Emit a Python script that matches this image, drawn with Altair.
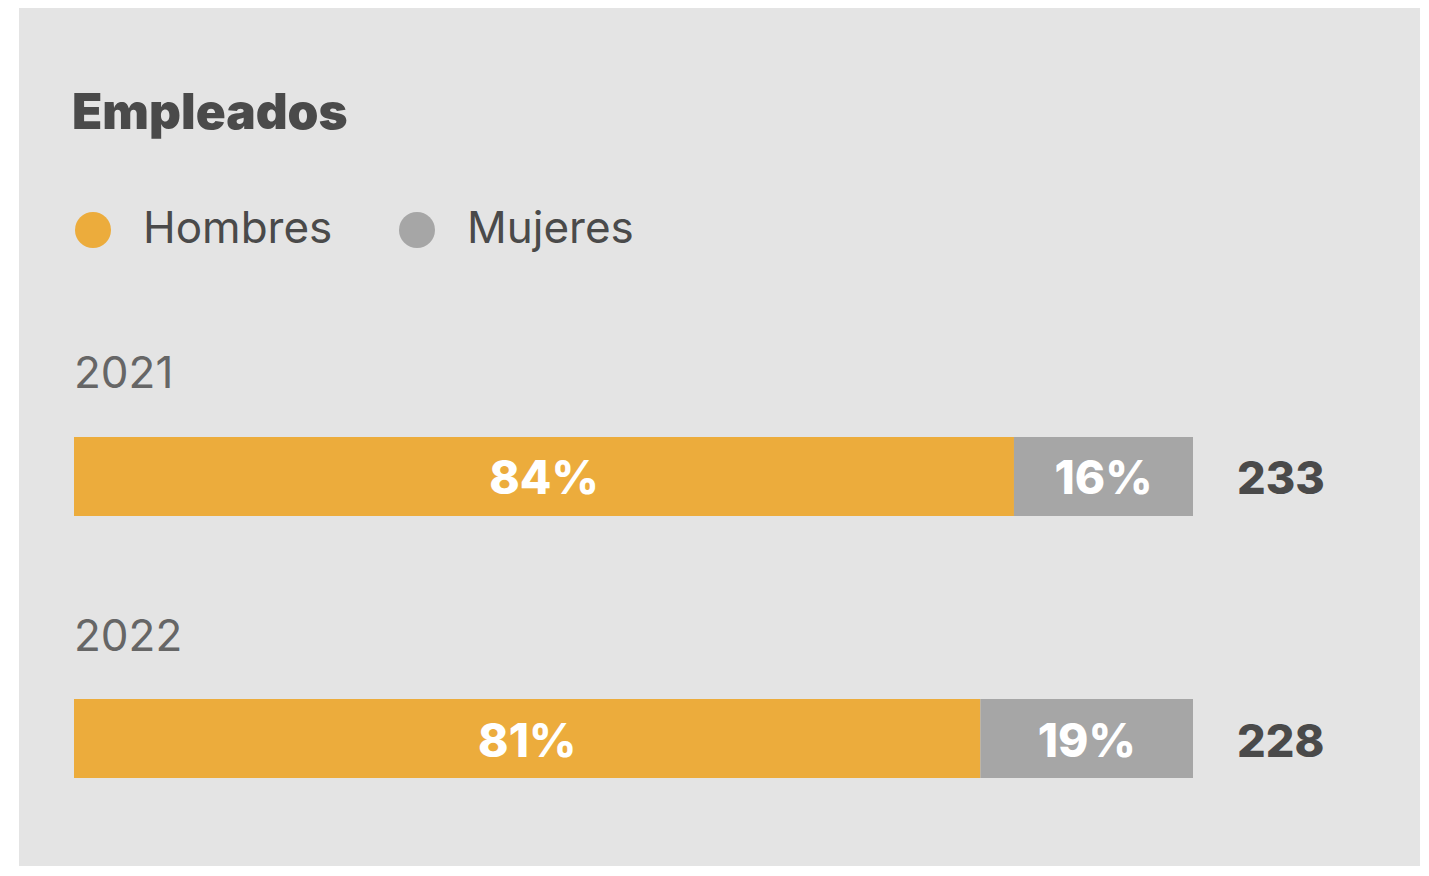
import altair as alt
import pandas as pd

# ---- data ----
years = ["2021", "2022"]
genders = ["Hombres", "Mujeres"]
hombres_pct = [84, 81]
mujeres_pct = [16, 19]
totals = [233, 228]
colors = ["#ECAC3C", "#A6A6A6"]
title_text = "Empleados"

rows = []
for i, yr in enumerate(years):
    start = 0
    for g, vals in zip(genders, [hombres_pct, mujeres_pct]):
        v = vals[i]
        rows.append({"year": yr, "gender": g, "pct": v, "start": start,
                     "end": start + v, "label": f"{v}%"})
        start += v
df = pd.DataFrame(rows)
tot_df = pd.DataFrame({"year": years, "total": totals})
year_df = pd.DataFrame({"year": years})
title_df = pd.DataFrame({"t": [title_text]})

FONT = "Inter"
W, H = 1401, 858

xs = alt.Scale(domain=[0, 100], range=[55, 1174])
ys = alt.Scale(domain=years, range=[429, 770], paddingInner=0.6985, paddingOuter=0)

bars = alt.Chart(df).mark_bar().encode(
    x=alt.X("start:Q", scale=xs, axis=None),
    x2="end:Q",
    y=alt.Y("year:N", scale=ys, axis=None),
    color=alt.Color(
        "gender:N",
        scale=alt.Scale(domain=genders, range=colors),
        legend=alt.Legend(
            orient="none", legendX=52, legendY=200, direction="horizontal",
            title=None, symbolType="circle", symbolSize=1296,
            symbolStrokeWidth=0, symbolOpacity=1, labelFontSize=44,
            labelFont=FONT, labelColor="#4A4A4A", labelOffset=28,
            labelLimit=0, columnPadding=62, padding=0,
        ),
    ),
)

seg_labels = alt.Chart(df).transform_calculate(
    mid="(datum.start + datum.end) / 2"
).mark_text(
    font=FONT, fontSize=46, fontWeight=800, color="white", baseline="middle",
    dy=4,
).encode(
    x=alt.X("mid:Q", scale=xs),
    y=alt.Y("year:N", scale=ys),
    text="label:N",
)

total_labels = alt.Chart(tot_df).mark_text(
    font=FONT, fontSize=45, fontWeight=800, color="#4A4A4A",
    align="left", baseline="middle", dx=44, dy=4,
).encode(
    x=alt.datum(100),
    y=alt.Y("year:N", scale=ys),
    text="total:Q",
)

year_labels = alt.Chart(year_df).mark_text(
    font=FONT, fontSize=44, color="#666666", align="left",
    baseline="middle", dy=-101,
).encode(
    x=alt.datum(0),
    y=alt.Y("year:N", scale=ys),
    text="year:N",
)

title = alt.Chart(title_df).mark_text(
    font=FONT, fontSize=49.5, fontWeight=900, color="#4A4A4A",
    align="left", baseline="alphabetic",
).encode(
    x=alt.value(53),
    y=alt.value(121),
    text="t:N",
)

chart = alt.layer(bars, seg_labels, total_labels, year_labels, title).properties(
    width=W, height=H,
    background="white",
    padding={"left": 11, "top": 0, "right": 0, "bottom": 0},
).configure_view(
    fill="#E4E4E4", stroke=None
)

chart.save("out.html", embed_options={"renderer": "svg", "actions": False})
